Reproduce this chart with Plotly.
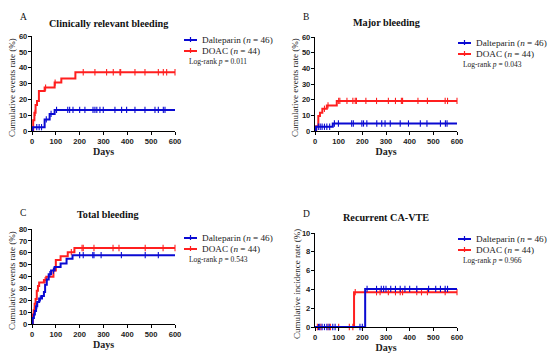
import plotly.graph_objects as go

# ---------------- data ----------------
# Panel A: Clinically relevant bleeding
A_dal_t = [0, 3, 53, 74, 95]
A_dal_y = [0, 2.4, 7.3, 10.8, 13.3]
A_dal_cens = [20, 30, 40, 60, 80, 103, 150, 158, 172, 200, 222, 256, 264, 272, 285, 299, 348, 376, 397, 432, 474, 516, 530, 551, 558]
A_doac_t = [0, 5, 10, 15, 21, 29, 53, 95, 123, 182]
A_doac_y = [0, 6.8, 11.5, 16.5, 19, 25.2, 27.4, 30.6, 33.2, 37.1]
A_doac_cens = [13, 57, 97, 215, 264, 313, 341, 369, 372, 432, 474, 530, 551, 565, 600]

# Panel B: Major bleeding
B_dal_t = [0, 4, 75]
B_dal_y = [0, 2.7, 4.8]
B_dal_cens = [14, 22, 30, 40, 50, 62, 82, 99, 155, 162, 198, 205, 219, 261, 282, 296, 318, 360, 395, 445, 473, 530, 551, 558]
B_doac_t = [0, 5, 14, 21, 31, 50, 92]
B_doac_y = [0, 3, 9.5, 11.6, 14.2, 16.3, 19.2]
B_doac_cens = [40, 55, 100, 105, 135, 160, 170, 175, 215, 260, 310, 340, 365, 370, 435, 475, 550, 560, 600]

# Panel C: Total bleeding
C_dal_t = [0, 3, 8, 12, 17, 22, 30, 42, 50, 55, 62, 70, 80, 95, 120, 145, 170]
C_dal_y = [0, 5, 8, 11, 15, 18.5, 21.5, 23.5, 27, 33, 37.5, 42, 45, 48, 51, 55, 58]
C_dal_cens = [20, 35, 75, 90, 200, 215, 255, 260, 290, 375, 475, 530]
C_doac_t = [0, 3, 7, 11, 15, 20, 25, 30, 50, 60, 90, 100, 120, 150, 178]
C_doac_y = [0, 8, 11.5, 17, 21, 28, 32, 35, 37, 39.8, 45, 54, 57, 60.5, 64]
C_doac_cens = [10, 55, 165, 210, 215, 260, 340, 365, 475, 550, 600]

# Panel D: Recurrent CA-VTE
D_dal_t = [0, 212]
D_dal_y = [0, 4.05]
D_dal_cens = [15, 20, 30, 40, 50, 60, 75, 85, 190, 200, 220, 260, 280, 290, 300, 320, 340, 360, 380, 400, 430, 480, 510, 530, 550, 560]
D_doac_t = [0, 165]
D_doac_y = [0, 3.7]
D_doac_cens = [10, 25, 55, 65, 100, 145, 160, 170, 260, 275, 310, 340, 360, 370, 430, 450, 475, 550, 600]

titles = ["Clinically relevant bleeding", "Major bleeding", "Total bleeding", "Recurrent CA-VTE"]
letters = ["A", "B", "C", "D"]
pvals = ["0.011", "0.043", "0.543", "0.966"]
ytitles = ["Cumulative events rate (%)", "Cumulative events rate (%)",
           "Cumulative events rate (%)", "Cumulative incidence rate (%)"]
ymax = [60, 60, 80, 10]
ydtick = [10, 10, 10, 2]
xticks = [0, 100, 200, 300, 400, 500, 600]
names = ["Dalteparin (<i>n</i> = 46)", "DOAC (<i>n</i> = 44)"]

panels = [
    (A_dal_t, A_dal_y, A_dal_cens, A_doac_t, A_doac_y, A_doac_cens),
    (B_dal_t, B_dal_y, B_dal_cens, B_doac_t, B_doac_y, B_doac_cens),
    (C_dal_t, C_dal_y, C_dal_cens, C_doac_t, C_doac_y, C_doac_cens),
    (D_dal_t, D_dal_y, D_dal_cens, D_doac_t, D_doac_y, D_doac_cens),
]

BLUE = "#0a0ad2"
RED = "#ff1f1f"
W, H = 550, 360

# pixel layout of each panel: x0, x1 (days 0..600), ybottom, ytop
px = [(32, 175, 131, 36), (315, 457, 131, 37), (32, 175, 324, 229), (315, 457, 327, 233)]
# legend anchor (x of line start, y of first row)
leg = [(184, 40), (458, 43), (184, 238), (458, 239)]
title_pos = [(108, 24), (386, 22), (108, 214), (386, 218)]
letter_pos = [(23, 17), (306, 17), (23, 213), (306, 214)]
ytitle_pos = [(12, 88), (295, 88), (12, 281), (297, 284)]

SERIF = "Liberation Serif"
SANS = "Liberation Sans"


def step_val(ts, ys, t):
    v = ys[0]
    for a, b in zip(ts, ys):
        if a <= t:
            v = b
    return v


fig = go.Figure()
annotations = []
shapes = []

for i, (dt, dy, dc, rt, ry, rc) in enumerate(panels):
    xa = "x" if i == 0 else f"x{i+1}"
    ya = "y" if i == 0 else f"y{i+1}"
    for ts, ys, cs, col in ((rt, ry, rc, RED), (dt, dy, dc, BLUE)):
        fig.add_trace(go.Scatter(
            x=ts + [600], y=ys + [ys[-1]], mode="lines", line=dict(color=col, width=2, shape="hv"),
            xaxis=xa, yaxis=ya, showlegend=False, hoverinfo="skip", cliponaxis=False))
        fig.add_trace(go.Scatter(
            x=cs, y=[step_val(ts, ys, c) for c in cs], mode="markers",
            marker=dict(symbol="line-ns", size=4.5, line=dict(color=col, width=1.1)),
            xaxis=xa, yaxis=ya, showlegend=False, hoverinfo="skip", cliponaxis=False))

    x0, x1, yb, yt = px[i]
    common = dict(showline=True, linecolor="black", linewidth=1.3, ticks="outside", ticklen=3,
                  tickwidth=1.2, tickcolor="black", showgrid=False, zeroline=False, automargin=False,
                  tickfont=dict(family=SANS, size=7.6, color="#222", weight="bold"))
    fig.layout[f"xaxis{'' if i == 0 else i+1}"] = go.layout.XAxis(
        domain=[x0 / W, x1 / W], anchor=ya, range=[0, 600], tickvals=xticks,
        title=dict(text="<b>Days</b>", font=dict(family=SERIF, size=10, color="#222"), standoff=0),
        **common)
    fig.layout[f"yaxis{'' if i == 0 else i+1}"] = go.layout.YAxis(
        domain=[1 - yb / H, 1 - yt / H], anchor=xa, range=[0, ymax[i]], dtick=ydtick[i],
        ticklabelstandoff=-1, **common)

    # y-axis title
    ttx, tty = ytitle_pos[i]
    annotations.append(dict(text=ytitles[i], x=ttx / W, y=1 - tty / H,
                            xref="paper", yref="paper", showarrow=False, textangle=-90,
                            font=dict(family=SERIF, size=9, color="#222"),
                            xanchor="center", yanchor="middle"))
    # title and letter
    tx, ty = title_pos[i]
    annotations.append(dict(text=f"<b>{titles[i]}</b>", x=tx / W, y=1 - ty / H, xref="paper", yref="paper",
                            showarrow=False, font=dict(family=SERIF, size=10.2, color="#111"),
                            xanchor="center", yanchor="middle"))
    lx, ly = letter_pos[i]
    annotations.append(dict(text=letters[i], x=lx / W, y=1 - ly / H, xref="paper", yref="paper",
                            showarrow=False, font=dict(family=SERIF, size=9.5, color="#111"),
                            xanchor="center", yanchor="middle"))
    # legend
    gx, gy = leg[i]
    for k, (nm, col) in enumerate(zip(names, (BLUE, RED))):
        yy = gy + k * 11
        shapes.append(dict(type="line", xref="paper", yref="paper", x0=gx / W, x1=(gx + 13) / W,
                           y0=1 - yy / H, y1=1 - yy / H, line=dict(color=col, width=2)))
        shapes.append(dict(type="line", xref="paper", yref="paper", x0=(gx + 6.5) / W, x1=(gx + 6.5) / W,
                           y0=1 - (yy + 2) / H, y1=1 - (yy - 3) / H, line=dict(color=col, width=1.2)))
        annotations.append(dict(text=nm, x=(gx + 16) / W, y=1 - yy / H, xref="paper", yref="paper",
                                showarrow=False, font=dict(family=SERIF, size=9.2, color="#222"),
                                xanchor="left", yanchor="middle"))
    annotations.append(dict(text=f"Log-rank <i>p</i> = {pvals[i]}", x=(gx + 3) / W, y=1 - (gy + 21) / H,
                            xref="paper", yref="paper", showarrow=False,
                            font=dict(family=SERIF, size=7.5, color="#222"),
                            xanchor="left", yanchor="middle"))

fig.update_layout(width=W, height=H, margin=dict(l=0, r=0, t=0, b=0, autoexpand=False),
                  paper_bgcolor="white", plot_bgcolor="white",
                  annotations=annotations, shapes=shapes, showlegend=False)

fig.write_html("out.html", config={"displayModeBar": False},
               post_script="document.body.style.margin='0';document.body.style.padding='0';")
